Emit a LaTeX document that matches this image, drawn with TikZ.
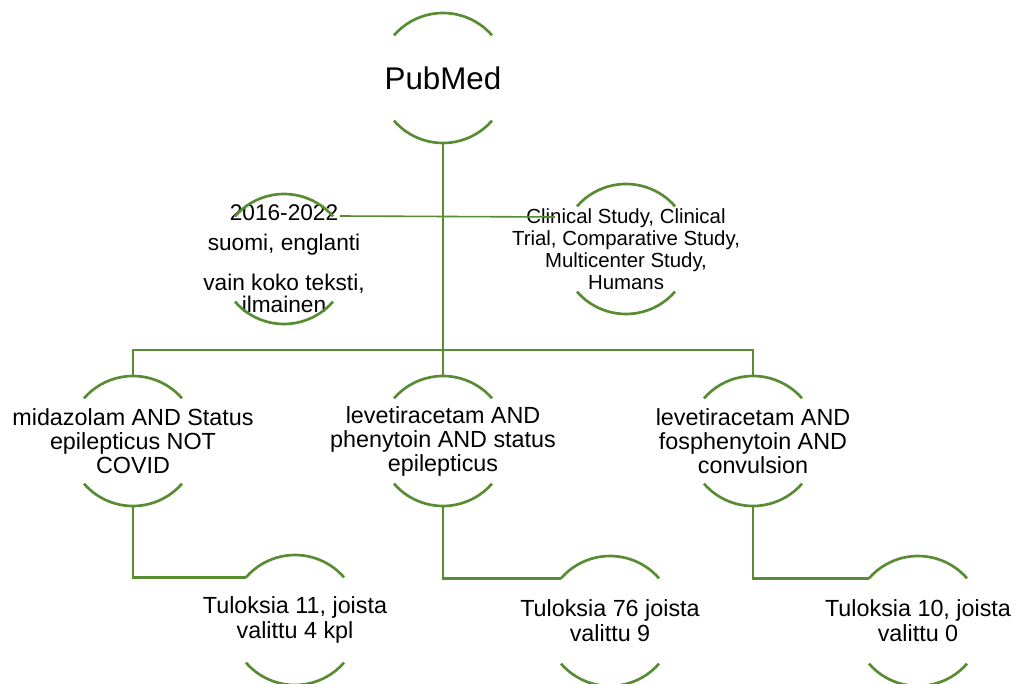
\documentclass[tikz,border=0pt]{standalone}
\usepackage{fontspec}
\setmainfont{Liberation Sans}
\usetikzlibrary{calc}
\definecolor{leafgreen}{RGB}{88,140,50}
\tikzset{
  bubble/.style={align=center, inner sep=0pt, font=\fontsize{17.5}{18}\selectfont},
  rim/.style={draw=leafgreen, line width=2pt},
  link/.style={draw=leafgreen, line width=2.2pt},
}

\begin{document}
\begin{tikzpicture}[x=0.75pt,y=0.75pt]
  \useasboundingbox (0,0) rectangle (1019,-684);
  \node[bubble, font=\fontsize{23.5}{26}\selectfont] (pubmed) at (443,-78) {PubMed};
  \node[bubble, font=\fontsize{17}{16.5}\selectfont] (rajaus) at (284,-259) {2016-2022\\[6pt] suomi, englanti\\[13.5pt] vain koko teksti,\\ ilmainen};
  \node[bubble, font=\fontsize{15.3}{16.5}\selectfont] (tyyppi) at (626,-249) {Clinical Study, Clinical\\ Trial, Comparative Study,\\ Multicenter Study,\\ Humans};
  \node[bubble] (mida) at (133,-441) {midazolam AND Status\\ epilepticus NOT\\ COVID};
  \node[bubble] (leve) at (443,-441) {levetiracetam AND\\ phenytoin AND status\\ epilepticus};
  \node[bubble] (fosf) at (753,-441) {levetiracetam AND\\ fosphenytoin AND\\ convulsion};
  \node[bubble, font=\fontsize{17.5}{18.75}\selectfont] (tulos1) at (295,-620) {Tuloksia 11, joista\\ valittu 4 kpl};
  \node[bubble, font=\fontsize{17.5}{18.75}\selectfont] (tulos2) at (610,-621) {Tuloksia 76 joista\\ valittu 9};
  \node[bubble, font=\fontsize{17.5}{18.75}\selectfont] (tulos3) at (918,-621) {Tuloksia 10, joista\\ valittu 0};
  \foreach \n in {pubmed,rajaus,tyyppi,mida,leve,fosf,tulos1,tulos2,tulos3} {
    \draw[rim] (\n.center) ++(41:65) arc[start angle=41, end angle=139, radius=65];
    \draw[rim] (\n.center) ++(221:65) arc[start angle=221, end angle=319, radius=65];
    \coordinate (\n-n) at ($(\n.center)+(0,65)$);
    \coordinate (\n-s) at ($(\n.center)+(0,-65)$);
    \coordinate (\n-w) at ($(\n.center)+(139:65)$);
  }
  \coordinate (haara) at (443,-350);
  \draw[link] (pubmed-s) -- (leve-n);
  \draw[link] (mida-n) |- (haara) -| (fosf-n);
  \foreach \a/\b in {mida/tulos1, leve/tulos2, fosf/tulos3}
    \draw[link] (\a-s) |- (\b-w);
  \coordinate (rivi-a) at (340,-216);
  \coordinate (rivi-b) at (555,-217);
  \draw[link, line width=1.2pt] (rivi-a) -- (rivi-b);
\end{tikzpicture}
\end{document}
